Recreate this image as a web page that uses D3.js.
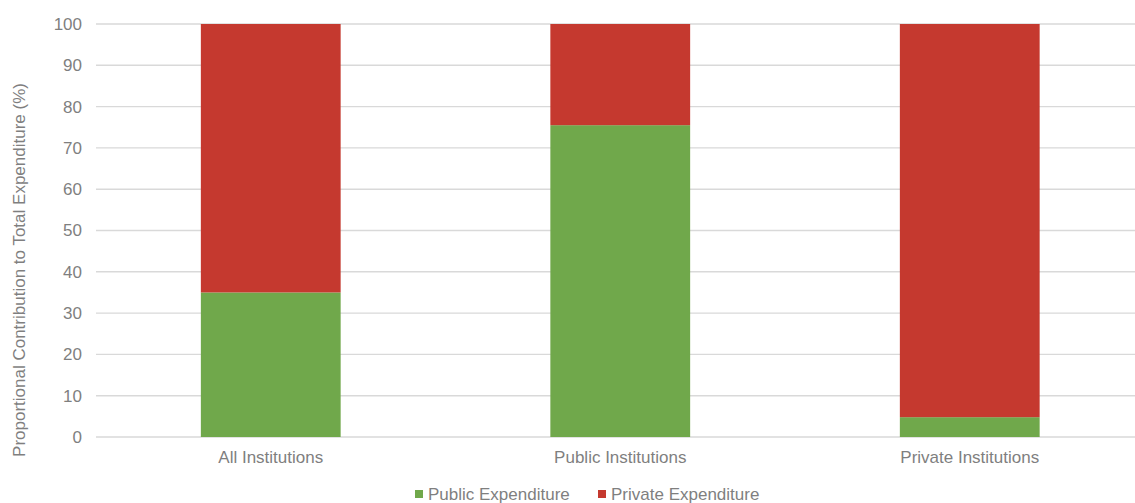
<!DOCTYPE html>
<html>
<head>
<meta charset="utf-8">
<script src="https://cdn.jsdelivr.net/npm/d3@7"></script>
<style>
  body { margin: 0; background: #fff; }
  text { font-family: "Liberation Sans", Arial, sans-serif; fill: #7f7f7f; }
</style>
</head>
<body>
<div id="chart"></div>
<script>
// data
let categories = ["All Institutions", "Public Institutions", "Private Institutions"];
let publicExp = [35, 75.5, 4.8];
let privateExp = [65, 24.5, 95.2];
let seriesNames = ["Public Expenditure", "Private Expenditure"];
let yTicks = [0, 10, 20, 30, 40, 50, 60, 70, 80, 90, 100];

let colors = ["#70a84b", "#c5392f"];

// set dimensions of graphic
let width = 1135;
let height = 503;
let plotLeft = 96;
let plotRight = 1144.5; // plot area runs a little past the window edge
let plotTop = 24;
let plotBottom = 437;

let svg = d3.select("#chart").append("svg")
  .attr("width", width)
  .attr("height", height);

let x = d3.scaleBand()
  .domain(categories)
  .range([plotLeft, plotRight])
  .paddingInner(0.6)
  .paddingOuter(0.3);

let y = d3.scaleLinear()
  .domain([0, 100])
  .range([plotBottom, plotTop]);

// gridlines
svg.append("g")
  .selectAll("line")
  .data(yTicks)
  .enter().append("line")
    .attr("x1", plotLeft)
    .attr("x2", width)
    .attr("y1", d => y(d))
    .attr("y2", d => y(d))
    .style("stroke", "#d9d9d9")
    .style("stroke-width", 1.4);

// y axis labels
let yAxis = d3.axisLeft(y).tickValues(yTicks).tickSize(0).tickPadding(14);
let yg = svg.append("g")
  .attr("transform", "translate(" + plotLeft + ",0)")
  .call(yAxis);
yg.select(".domain").remove();
yg.selectAll("text").style("font-size", "17px").attr("fill", "#7f7f7f");

// stacked bars
let rows = categories.map((c, i) => ({cat: c, pub: publicExp[i], priv: privateExp[i]}));
let stack = d3.stack().keys(["pub", "priv"]);
let layers = stack(rows);

svg.append("g")
  .selectAll("g")
  .data(layers)
  .enter().append("g")
    .style("fill", (d, i) => colors[i])
  .selectAll("rect")
  .data(d => d)
  .enter().append("rect")
    .attr("x", d => x(d.data.cat))
    .attr("width", x.bandwidth())
    .attr("y", d => y(d[1]))
    .attr("height", d => y(d[0]) - y(d[1]));

// x axis labels
let xAxis = d3.axisBottom(x).tickSize(0).tickPadding(14);
let xg = svg.append("g")
  .attr("transform", "translate(0," + plotBottom + ")")
  .call(xAxis);
xg.select(".domain").remove();
xg.selectAll("text").style("font-size", "17px").attr("fill", "#7f7f7f");

// y axis title
svg.append("text")
  .attr("transform", "translate(25,270) rotate(-90)")
  .attr("text-anchor", "middle")
  .style("font-size", "17px")
  .text("Proportional Contribution to Total Expenditure (%)");

// legend
let legendX = [415, 598];
let legend = svg.append("g")
  .selectAll("g")
  .data(seriesNames)
  .enter().append("g")
    .attr("transform", (d, i) => "translate(" + legendX[i] + ",500)");
legend.append("rect")
  .attr("x", 0)
  .attr("y", -10)
  .attr("width", 8)
  .attr("height", 8)
  .style("fill", (d, i) => colors[i]);
legend.append("text")
  .attr("x", 13)
  .style("font-size", "17px")
  .text(d => d);
</script>
</body>
</html>
